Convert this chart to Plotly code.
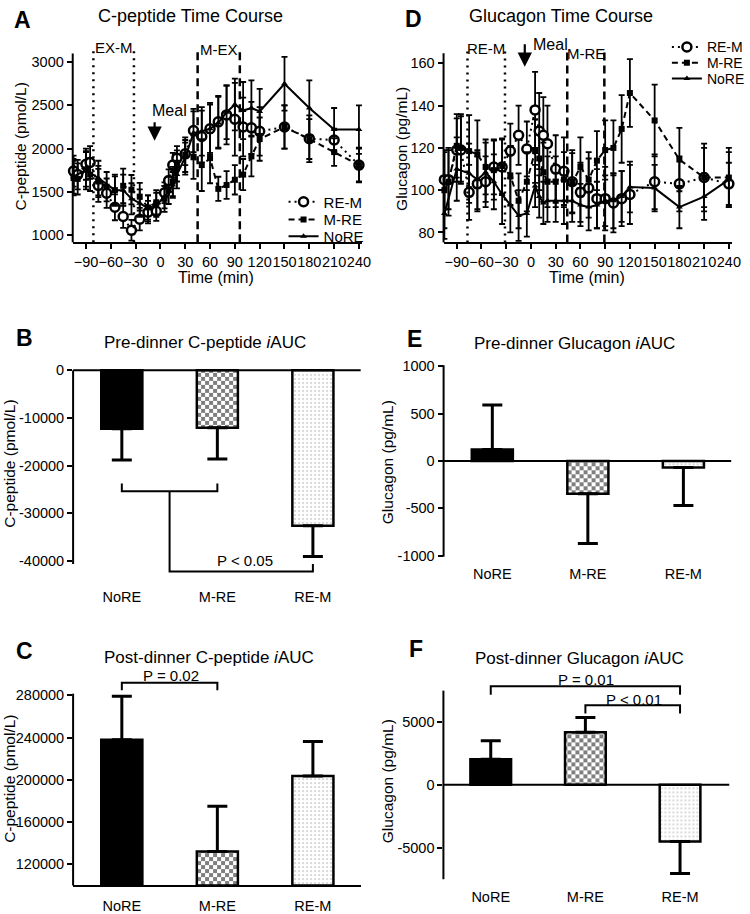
import plotly.graph_objects as go

W, H = 750, 914
FONT = "Arial, Liberation Sans, Helvetica, sans-serif"

# ---------------- data ----------------
series_names = ["RE-M", "M-RE", "NoRE"]
bar_categories = ["NoRE", "M-RE", "RE-M"]
time_ticks = [-90, -60, -30, 0, 30, 60, 90, 120, 150, 180, 210, 240]

time_ex = [-105, -100, -90, -85, -75, -65, -55, -45, -35, -25,
           -15, -5, 5, 10, 15, 20, 30, 40, 50, 60,
           70, 80, 90, 100, 110, 120, 150, 180, 210, 240]

cpep_rem = [1740, 1700, 1820, 1840, 1575, 1485, 1322, 1215, 1057, 1185,
            1265, 1275, 1490, 1630, 1810, 1890, 1940, 2210, 2140, 2230,
            2310, 2390, 2340, 2250, 2240, 2200, 2250, 2115, 2100, 1810]
cpep_rem_err = [180, 170, 180, 190, 190, 170, 150, 130, 120, 130,
                130, 110, 120, 130, 140, 140, 130, 250, 300, 280,
                300, 340, 420, 340, 300, 280, 250, 270, 130, 200]
cpep_mre = [1660, 1650, 1760, 1700, 1620, 1560, 1520, 1570, 1525, 1445,
            1320, 1380, 1420, 1520, 1620, 1800, 1930, 1900, 1810, 1890,
            1535, 1580, 1640, 1700, 1910, 2110, 2250, 2110, 1960, 1810]
cpep_mre_err = [200, 180, 200, 190, 180, 170, 160, 200, 170, 160,
                140, 140, 150, 160, 170, 180, 200, 250, 300, 290,
                140, 160, 170, 180, 230, 250, 250, 230, 160, 190]
time_nore_cpep = [-105, -90, -75, -55, -45, -35, -25, -15, -5, 5,
                  15, 20, 30, 40, 50, 60, 70, 80, 90, 100,
                  110, 120, 150, 180, 210, 240]
cpep_nore = [1680, 1750, 1660, 1520, 1520, 1420, 1370, 1310, 1350, 1440,
             1580, 1700, 1900, 2180, 2200, 2230, 2300, 2420, 2510, 2440,
             2470, 2430, 2750, 2470, 2220, 2220]
cpep_nore_err = [200, 220, 200, 180, 180, 180, 160, 150, 140, 130,
                 150, 160, 200, 250, 280, 300, 300, 310, 300, 330,
                 320, 260, 310, 320, 250, 280]

gluc_rem = [105, 105, 119, 119, 99, 103, 104, 111, 111, 118.5,
            126, 119.5, 138, 128, 126, 122, 110, 109, 104, 99,
            101, 96, 96, 94, 96, 98, 104, 103, 106, 103]
gluc_rem_err = [14, 14, 15, 16, 13, 13, 12, 13, 13, 13,
                14, 13, 18, 18, 18, 18, 16, 16, 15, 14,
                14, 14, 15, 14, 13, 14, 13, 13, 14, 10]
gluc_mre = [100, 104, 121, 120, 118.5, 117, 111, 109.5, 111.5, 107,
            95, 104, 118.5, 115, 108.5, 104, 104, 105, 103.5, 111,
            105, 114, 119, 120, 129, 146, 133, 114.5, 106, 106]
gluc_mre_err = [18, 16, 15, 16, 17, 16, 13, 14, 13, 14,
                13, 14, 15, 15, 14, 12, 12, 13, 14, 14,
                13, 14, 14, 13, 16, 16, 17, 15, 16, 14]
time_nore_gluc = [-105, -90, -75, -65, -55, -45, -35, -25, -15, -5,
                  5, 10, 15, 20, 30, 40, 50, 60, 70, 80,
                  90, 100, 110, 120, 150, 180, 210, 240]
gluc_nore = [89, 110, 108, 105, 108.5, 104, 98, 93, 88, 89,
             102, 97, 94, 95, 95, 95, 95, 93, 92, 93,
             95, 95, 97, 101.5, 101, 92, 97, 105]
gluc_nore_err = [12, 15, 14, 14, 14, 13, 14, 13, 12, 11,
                 10, 10, 10, 10, 10, 11, 10, 10, 11, 11,
                 12, 13, 12, 12, 11, 10, 11, 13]

# exercise windows (min)
cpep_window_first = [-81, -32]
cpep_window_second = [45, 96]
gluc_window_first = [-77, -31.5]
gluc_window_second = [44, 89]
meal_time = [-7, -7.5]

pre_cpep_iauc = [-12300, -12070, -32650]
pre_cpep_sem = [6540, 6560, 6480]
post_cpep_iauc = [238000, 132100, 203600]
post_cpep_sem = [41000, 43000, 32700]
pre_gluc_iauc = [121, -345, -69]
pre_gluc_sem = [470, 525, 400]
post_gluc_iauc = [2025, 4160, -4490]
post_gluc_sem = [1450, 1170, 2540]


# ---------------- geometry helpers ----------------
def lin(v0, p0, v1, p1):
    k = (p1 - p0) / (v1 - v0)
    return lambda v: p0 + (v - v0) * k


def xd(p):
    return p / W


def yd(p):
    return 1 - p / H


panels = {
    "A": dict(xid="x", yid="y", fx=lin(-90, 87, 240, 363.3), fy=lin(1000, 232.7, 3000, 57),
              xr=[-106, 244], yr=[917, 3155]),
    "D": dict(xid="x2", yid="y2", fx=lin(-90, 462.3, 240, 737.7), fy=lin(80, 230, 160, 58.3),
              xr=[-106, 244], yr=[75.3, 167]),
    "B": dict(xid="x3", yid="y3", fx=lin(0, 123.3, 2, 316.7), fy=lin(0, 370, -40000, 563.3),
              xr=[-0.51, 2.5], yr=[-44100, 300]),
    "E": dict(xid="x4", yid="y4", fx=lin(0, 498.3, 2, 691.7), fy=lin(1000, 365.7, -1000, 558.3),
              xr=[-0.51, 2.5], yr=[-1020, 1040]),
    "C": dict(xid="x5", yid="y5", fx=lin(0, 123.3, 2, 316.7), fy=lin(120000, 871.7, 280000, 700),
              xr=[-0.51, 2.5], yr=[100000, 301000]),
    "F": dict(xid="x6", yid="y6", fx=lin(0, 496.7, 2, 688.3), fy=lin(5000, 726.7, -5000, 855),
              xr=[-0.5, 2.52], yr=[-7600, 8100]),
}
panels["A"]["ytick"] = [1000, 1500, 2000, 2500, 3000]
panels["D"]["ytick"] = [80, 100, 120, 140, 160]
panels["B"]["ytick"] = [0, -10000, -20000, -30000, -40000]
panels["C"]["ytick"] = [120000, 160000, 200000, 240000, 280000]
panels["E"]["ytick"] = [1000, 500, 0, -500, -1000]
panels["F"]["ytick"] = [5000, 0, -5000]

fig = go.Figure()
layout = dict(
    width=W, height=H, margin=dict(l=0, r=0, t=0, b=0),
    paper_bgcolor="white", plot_bgcolor="white",
    font=dict(family=FONT, size=14, color="black"),
    barmode="overlay", showlegend=True,
)

for key, p in panels.items():
    fx, fy = p["fx"], p["fy"]
    xname = "xaxis" + p["xid"][1:]
    yname = "yaxis" + p["yid"][1:]
    xdom = [xd(fx(p["xr"][0])), xd(fx(p["xr"][1]))]
    ydom = [yd(fy(p["yr"][0])), yd(fy(p["yr"][1]))]
    xa = dict(domain=xdom, range=p["xr"], anchor=p["yid"], showgrid=False, zeroline=False,
              tickangle=0, fixedrange=True)
    ya = dict(domain=ydom, range=p["yr"], anchor=p["xid"], showgrid=False, zeroline=False,
              tickfont=dict(family=FONT, size=14.5, color="black"), showline=False,
              ticks="outside", ticklen=5, tickwidth=2, tickcolor="black", fixedrange=True,
              tickvals=p["ytick"], ticktext=[str(v) for v in p["ytick"]])
    if key in ("A", "D"):
        xa.update(tickvals=time_ticks, ticks="outside", ticklen=5, tickwidth=2, tickcolor="black",
                  showline=True, linewidth=2, linecolor="black",
                  tickfont=dict(family=FONT, size=14.5, color="black"))
    else:
        xa.update(type="category", categoryorder="array", categoryarray=bar_categories,
                  ticks="", showline=(key == "C"), linewidth=2, linecolor="black",
                  tickfont=dict(family=FONT, size=14.5, color="black"), ticklabelstandoff=6)
    layout[xname] = xa
    layout[yname] = ya

# ---------------- time course traces ----------------
line_styles = {
    "RE-M": dict(dash="2px,4px", marker=dict(symbol="circle", size=9, color="white",
                                             line=dict(color="black", width=2.5))),
    "M-RE": dict(dash="6px,4px", marker=dict(symbol="square", size=6, color="black")),
    "NoRE": dict(dash="solid", marker=dict(symbol="triangle-up", size=6, color="black")),
}

# one single-entry legend per series so rows can sit as tightly as in the reference
legend_rows = {
    "A": dict(x=287, rows=[199, 217, 234], ids=["legend", "legend3", "legend4"], size=15),
    "D": dict(x=675, rows=[42, 58, 74], ids=["legend2", "legend5", "legend6"], size=14),
}

tc_sets = [
    ("A", {"RE-M": (time_ex, cpep_rem, cpep_rem_err),
           "M-RE": (time_ex, cpep_mre, cpep_mre_err),
           "NoRE": (time_nore_cpep, cpep_nore, cpep_nore_err)}),
    ("D", {"RE-M": (time_ex, gluc_rem, gluc_rem_err),
           "M-RE": (time_ex, gluc_mre, gluc_mre_err),
           "NoRE": (time_nore_gluc, gluc_nore, gluc_nore_err)}),
]
for key, sets in tc_sets:
    p = panels[key]
    lr = legend_rows[key]
    for i, name in enumerate(series_names):
        t, v, e = sets[name]
        st = line_styles[name]
        fig.add_trace(go.Scatter(
            x=t, y=v, name=name, mode="lines+markers",
            line=dict(color="black", width=2, dash=st["dash"]),
            marker=st["marker"],
            error_y=dict(type="data", array=e, visible=True, thickness=1.8, width=3, color="black"),
            xaxis=p["xid"], yaxis=p["yid"], legend=lr["ids"][i], cliponaxis=False,
        ))
        layout[lr["ids"][i]] = dict(x=xd(lr["x"]), y=yd(lr["rows"][i]), xanchor="left",
                                    yanchor="middle", bgcolor="rgba(0,0,0,0)",
                                    font=dict(family=FONT, size=lr["size"]),
                                    itemwidth=30, borderwidth=0)


# ---------------- bars ----------------
def checker():
    try:
        return go.bar.marker.Pattern(path="M0,0H4V4H0ZM4,4H8V8H4Z", size=8,
                                     fgcolor="black", bgcolor="white", solidity=1)
    except Exception:
        return go.bar.marker.Pattern(shape="+", size=8, solidity=0.45,
                                     fgcolor="black", bgcolor="white")


bar_styles = {
    "NoRE": dict(color="black", pattern=None),
    "M-RE": dict(color="white", pattern=checker()),
    "RE-M": dict(color="white", pattern=go.bar.marker.Pattern(shape=".", size=4, solidity=0.12,
                                                             fgcolor="#444", bgcolor="white")),
}

bar_sets = [("B", pre_cpep_iauc, pre_cpep_sem), ("E", pre_gluc_iauc, pre_gluc_sem),
            ("C", post_cpep_iauc, post_cpep_sem), ("F", post_gluc_iauc, post_gluc_sem)]
for key, vals, sems in bar_sets:
    p = panels[key]
    for i, cat in enumerate(bar_categories):
        val, sem = vals[i], sems[i]
        st = bar_styles[cat]
        marker = dict(color=st["color"], line=dict(color="black", width=2.5))
        if st["pattern"] is not None:
            marker["pattern"] = st["pattern"]
        base = panels["C"]["yr"][0] if key == "C" else None
        fig.add_trace(go.Bar(
            x=[cat], y=[val - base] if base is not None else [val], base=base,
            width=0.43, marker=marker, showlegend=False,
            error_y=dict(type="data", symmetric=False,
                         array=[sem if val > 0 else 0], arrayminus=[sem if val < 0 else 0],
                         thickness=3, width=10, color="black"),
            xaxis=p["xid"], yaxis=p["yid"],
        ))

# ---------------- shapes ----------------
shapes = []


def pline(x0, y0, x1, y1, w=2, dash="solid"):
    shapes.append(dict(type="line", xref="paper", yref="paper", x0=xd(x0), y0=yd(y0),
                       x1=xd(x1), y1=yd(y1), line=dict(color="black", width=w, dash=dash)))


# axis lines
for key, ytop, ybot in [("A", 3100, 917), ("D", 164.8, 75.3), ("B", 0, -40700),
                        ("C", 281500, 100000), ("E", 1010, -1010), ("F", 7450, -7480)]:
    p = panels[key]
    xl = p["fx"](p["xr"][0])
    pline(xl, p["fy"](ytop), xl, p["fy"](ybot))
for key in ("B", "E", "F"):
    p = panels[key]
    pline(p["fx"](p["xr"][0]), p["fy"](0), p["fx"](p["xr"][1]), p["fy"](0))

# exercise windows
for key, first, second in [("A", cpep_window_first, cpep_window_second),
                           ("D", gluc_window_first, gluc_window_second)]:
    p = panels[key]
    for tx in first:
        shapes.append(dict(type="line", xref=p["xid"], yref=p["yid"], x0=tx, x1=tx,
                           y0=p["yr"][0], y1=p["yr"][1],
                           line=dict(color="black", width=2.5, dash="2px,5px")))
    for tx in second:
        shapes.append(dict(type="line", xref=p["xid"], yref=p["yid"], x0=tx, x1=tx,
                           y0=p["yr"][0], y1=p["yr"][1],
                           line=dict(color="black", width=2.5, dash="8px,5px")))


# significance brackets
def bracket(key, xa, xb, y, ya_tick, yb_tick):
    p = panels[key]
    path = f"M {xa},{ya_tick} L {xa},{y} L {xb},{y} L {xb},{yb_tick}"
    shapes.append(dict(type="path", xref=p["xid"], yref=p["yid"], path=path,
                       line=dict(color="black", width=2)))


bracket("B", 0, 1, -25400, -23800, -23800)
bracket("B", 0.5, 2, -42300, -25400, -40700)
bracket("C", 0, 1, 291800, 284700, 284700)
bracket("F", 0, 2, 7790, 7120, 7120)
bracket("F", 1, 2, 6290, 5640, 5640)

layout["shapes"] = shapes

# ---------------- annotations ----------------
ann = []


def ptext(text, x, y, size=14, angle=0, xanchor="center"):
    ann.append(dict(text=text, xref="paper", yref="paper", x=xd(x), y=yd(y), showarrow=False,
                    font=dict(family=FONT, size=size, color="black"), textangle=angle,
                    xanchor=xanchor, yanchor="middle"))


# panel letters
for letter, x, y in [("A", 23, 14), ("D", 419, 13), ("B", 25, 337), ("E", 420, 338),
                     ("C", 25, 655), ("F", 421, 653)]:
    ptext(f"<b>{letter}</b>", x, y, size=23)

# titles
ptext("C-peptide Time Course", 193, 10, 18)
ptext("Glucagon Time Course", 568, 10, 18)
ptext("Pre-dinner C-peptide <i>i</i>AUC", 207, 342, 17)
ptext("Pre-dinner Glucagon <i>i</i>AUC", 581, 343, 17)
ptext("Post-dinner C-peptide <i>i</i>AUC", 212, 662, 17)
ptext("Post-dinner Glucagon <i>i</i>AUC", 587, 663, 17)

# axis titles
ptext("C-peptide (pmol/L)", 21, 143, 15.5, -90)
ptext("Glucagon (pg/mL)", 407, 145, 15.5, -90)
ptext("C-peptide (pmol/L)", 10, 465, 15.5, -90)
ptext("Glucagon (pg/mL)", 393, 463, 15.5, -90)
ptext("C-peptide (pmol/L)", 10, 785, 15.5, -90)
ptext("Glucagon (pg/mL)", 393, 787, 15.5, -90)
ptext("Time (min)", 219, 276, 16)
ptext("Time (min)", 594, 276, 16)

# window labels
pA, pD = panels["A"], panels["D"]
ptext("EX-M", pA["fx"](sum(cpep_window_first) / 2), 42, 15)
ptext("M-EX", pA["fx"](sum(cpep_window_second) / 2), 44, 15)
ptext("RE-M", pD["fx"](sum(gluc_window_first) / 2), 43, 15)
ptext("M-RE", pD["fx"](sum(gluc_window_second) / 2), 48, 15)

# meal arrows
ann.append(dict(xref="x", yref="y", x=meal_time[0], y=2090, ax=0, ay=-20, showarrow=True,
                arrowhead=2, arrowsize=1.3, arrowwidth=2.2, arrowcolor="black", text=""))
ptext("Meal", 172, 106, 16)
ann.append(dict(xref="x2", yref="y2", x=meal_time[1], y=158.4, ax=0, ay=-24, showarrow=True,
                arrowhead=2, arrowsize=1.3, arrowwidth=2.2, arrowcolor="black", text=""))
ptext("Meal", 537, 39, 16, xanchor="left")

# p-values
ptext("P < 0.05", 248, 563, 15)
ptext("P = 0.02", 173, 680, 15)
ptext("P = 0.01", 593, 684, 15)
ptext("P < 0.01", 642, 704, 15)

layout["annotations"] = ann

fig.update_layout(**layout)
fig.write_html("out.html", config={"displayModeBar": False},
               post_script="document.body.style.margin='0px';")
